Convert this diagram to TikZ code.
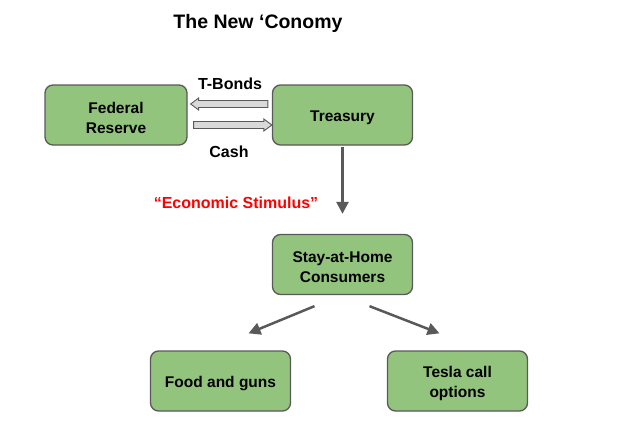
\documentclass[tikz,border=0pt]{standalone}
\usepackage{fontspec}
\setmainfont{Liberation Sans}
\usetikzlibrary{arrows.meta,calc}
\definecolor{boxgreen}{HTML}{93C47D}
\definecolor{boxedge}{HTML}{595959}
\definecolor{arrowgray}{HTML}{595959}
\definecolor{blockfill}{HTML}{D9D9D9}
\newcommand\topstrut{\rule{0pt}{16.5pt}}
\tikzset{
  box/.style={draw=boxedge, fill=boxgreen, line width=1.3pt, rounded corners=8pt,
    minimum width=140pt, minimum height=60pt, align=center,
    font=\fontsize{15.5}{20}\selectfont\bfseries, text=black},
  conn/.style={draw=arrowgray, line width=2.5pt, -{Triangle[length=12pt,width=12pt]}},
  blockarrow/.style={draw=arrowgray, fill=blockfill, line width=0.9pt, line join=miter},
  lbl/.style={font=\fontsize{16}{19}\selectfont\bfseries, text=black},
}
\begin{document}
\begin{tikzpicture}[x=1pt,y=-1pt]
\useasboundingbox (0,0) rectangle (640,434);
\node[font=\fontsize{19.5}{23}\selectfont\bfseries] (title) at (258,23.5) {The New ‘Conomy};
\node[box, minimum width=142pt] (fed) at (116,115) {\topstrut Federal\\Reserve};
\node[box] (treas) at (342.5,115) {\topstrut Treasury};
\node[box] (stay) at (342.5,264.5) {\topstrut Stay-at-Home\\Consumers};
\node[box] (food) at (220.5,381) {\topstrut Food and guns};
\node[box] (tesla) at (457.5,381) {\topstrut Tesla call\\options};
\node[lbl] (tb) at (230,84) {T-Bonds};
\node[lbl] (cash) at (229,152) {Cash};
\node[font=\fontsize{16}{19}\selectfont\bfseries, text=red] (stim) at (236,203) {“Economic Stimulus”};
% block arrows
\path[blockarrow] let \p1=($(treas.west)+(-4,-11)$), \p2=($(fed.east)+(3,-11)$) in
  (\x2,\y2) -- (\x2+8pt,\y2+6pt) -- (\x2+8pt,\y2+3.5pt) -- (\x1,\y1+3.5pt) -- (\x1,\y1-3.5pt)
  -- (\x2+8pt,\y2-3.5pt) -- (\x2+8pt,\y2-6pt) -- cycle;
\path[blockarrow] let \p1=($(fed.east)+(6,10)$), \p2=($(treas.west)+(0,10)$) in
  (\x2,\y2) -- (\x2-8pt,\y2+6pt) -- (\x2-8pt,\y2+3.5pt) -- (\x1,\y1+3.5pt) -- (\x1,\y1-3.5pt)
  -- (\x2-8pt,\y2-3.5pt) -- (\x2-8pt,\y2-6pt) -- cycle;
% connectors
\coordinate (v1) at ($(treas.south)+(0,1)$);
\coordinate (v2) at ($(stay.north)+(0,-20)$);
\draw[conn] (v1) -- (v2);
\coordinate (l1) at ($(stay.south)+(-28,11)$);
\coordinate (l2) at ($(food.north)+(28,-17)$);
\draw[conn] (l1) -- (l2);
\coordinate (r1) at ($(stay.south)+(27,11)$);
\coordinate (r2) at ($(tesla.north)+(-18,-17)$);
\draw[conn] (r1) -- (r2);
\end{tikzpicture}
\end{document}
